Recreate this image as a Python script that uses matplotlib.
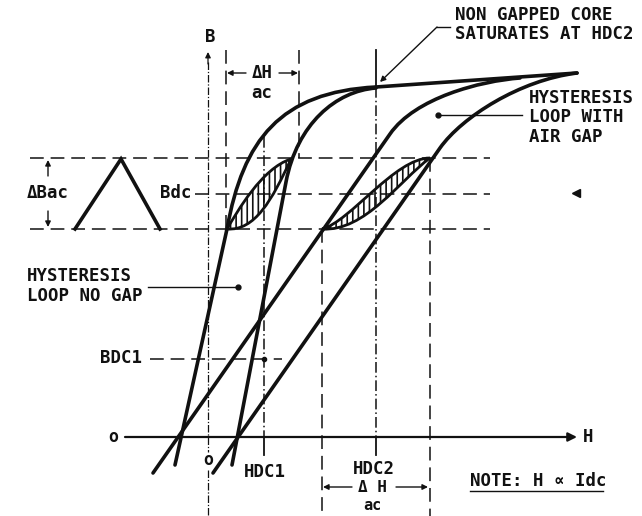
import matplotlib
matplotlib.use("Agg")
import matplotlib.pyplot as plt
from matplotlib.path import Path
from matplotlib.patches import PathPatch

# Sheet is laid out in page units: x to the right, y downwards, 642 x 516.
PAGE_W, PAGE_H = 642, 516

# --- major loops: straight run, then a cubic knee into saturation --------
# knee = [start, ctrl1, ctrl2, end]
steep_left_line = [(175, 465), (227, 229)]
steep_left_knee = [(227, 229), (243, 140), (280, 92), (376, 87)]
steep_right_line = [(232, 465), (286, 182)]
steep_right_knee = [(286, 182), (297, 124), (336, 91), (376, 88)]
gap_left_line = [(153, 473), (390, 134)]
gap_left_knee = [(390, 134), (415, 98), (480, 81), (520, 78)]
gap_right_line = [(213, 473), (440, 148)]
gap_right_knee = [(440, 148), (462, 117), (520, 80), (577, 73)]
saturation_line = [(376, 87), (577, 73)]

# --- minor (ac) loops: start, upper ctrl1, upper ctrl2, end, lower ctrl2, lower ctrl1
minor_no_gap = [(227, 229), (237, 212), (262, 168), (291, 159), (272, 200), (255, 231)]
minor_gap = [(322, 229), (350, 222), (395, 158), (430, 158), (400, 180), (365, 232)]

# ac drive waveform (triangle)
triangle_x = [75, 121, 160]
triangle_y = [229, 159, 229]

# --- reference lines ------------------------------------------------------
b_top, b_dc, b_bottom, b_dc1 = 158, 194, 229, 359
h_axis_y = 437
b_axis_x = 208
h_ac1 = (226, 299)      # ac swing around HDC1
h_dc1 = 264
h_ac2 = (322, 430)      # ac swing around HDC2
h_dc2 = 376

dashed_h = [(b_top, 30, 490), (b_bottom, 30, 490), (b_dc, 195, 490), (b_dc1, 150, 282)]
dashed_v = [(h_ac1[0], 50, b_bottom), (h_ac1[1], 50, b_top),
            (h_ac2[0], b_bottom, PAGE_H), (h_ac2[1], b_top, PAGE_H)]
dashdot_v = [(h_dc1, 137, h_axis_y), (h_dc2, 87, h_axis_y)]

# --- labels: text, x, y, horizontal alignment, size ------------------------
labels = [
    ("NON GAPPED CORE", 455, 15, "left", 12.5),
    ("SATURATES AT HDC2", 455, 34, "left", 12.5),
    ("B", 210, 37, "center", 12.5),
    ("ac", 262, 93, "center", 12.5),
    ("HYSTERESIS", 529, 98, "left", 12.5),
    ("LOOP WITH", 529, 117, "left", 12.5),
    ("AIR GAP", 529, 137, "left", 12.5),
    ("\u0394Bac", 27, 193, "left", 12.5),
    ("Bdc", 160, 193, "left", 12.5),
    ("HYSTERESIS", 27, 276, "left", 12.5),
    ("LOOP NO GAP", 27, 296, "left", 12.5),
    ("BDC1", 100, 358, "left", 12.5),
    ("H", 583, 437, "left", 12.5),
    ("HDC1", 265, 472, "center", 12.5),
    ("HDC2", 374, 469, "center", 12.5),
    ("ac", 372, 506, "center", 11),
    ("NOTE: H \u221d Idc", 470, 481, "left", 12.5),
]

INK = "#111111"
THICK = 2.6
THIN = 1.1

plt.rcParams["font.family"] = ["DejaVu Sans Mono", "DejaVu Sans"]
plt.rcParams["font.weight"] = "bold"
plt.rcParams["hatch.linewidth"] = 1.2

fig = plt.figure(figsize=(PAGE_W / 100, PAGE_H / 100), dpi=100)
ax = fig.add_axes([0, 0, 1, 1])
ax.set_xlim(0, PAGE_W)
ax.set_ylim(PAGE_H, 0)
ax.axis("off")


def branch(line, knee):
    verts = list(line) + list(knee[1:])
    codes = [Path.MOVETO] + [Path.LINETO] * (len(line) - 1) + [Path.CURVE4] * 3
    ax.add_patch(PathPatch(Path(verts, codes), fill=False, lw=THICK, ec=INK,
                           capstyle="round", joinstyle="round"))


def lens(pts):
    p0, u1, u2, p3, l2, l1 = pts
    verts = [p0, u1, u2, p3, l2, l1, p0, p0]
    codes = [Path.MOVETO] + [Path.CURVE4] * 6 + [Path.CLOSEPOLY]
    ax.add_patch(PathPatch(Path(verts, codes), fc="white", ec=INK, lw=2.0,
                           hatch="|||"))


for line, knee in [(steep_left_line, steep_left_knee), (steep_right_line, steep_right_knee),
                   (gap_left_line, gap_left_knee), (gap_right_line, gap_right_knee)]:
    branch(line, knee)
ax.plot(*zip(*saturation_line), color=INK, lw=THICK, solid_capstyle="round")

lens(minor_no_gap)
lens(minor_gap)

ax.plot(triangle_x, triangle_y, color=INK, lw=THICK, solid_joinstyle="miter")

dash = (0, (9, 4.5))
for y, x0, x1 in dashed_h:
    ax.plot([x0, x1], [y, y], color=INK, lw=THIN, ls=dash)
for x, y0, y1 in dashed_v:
    ax.plot([x, x], [y0, y1], color=INK, lw=THIN, ls=dash)
for x, y0, y1 in dashdot_v:
    ax.plot([x, x], [y0, y1], color=INK, lw=THIN, ls=(0, (7, 2, 1, 2)))
    ax.plot([x, x], [h_axis_y, h_axis_y + 18], color=INK, lw=1.3)
ax.plot([h_dc2, h_dc2], [50, 87], color=INK, lw=1.3)
ax.plot(h_dc1, b_dc1, "o", color=INK, ms=3)

# axes
ax.annotate("", xy=(577, h_axis_y), xytext=(125, h_axis_y),
            arrowprops=dict(arrowstyle="-|>", lw=1.6, color=INK, mutation_scale=13,
                            shrinkA=0, shrinkB=0))
ax.plot([b_axis_x, b_axis_x], [62, 452], color=INK, lw=0.9, ls=(0, (6, 1.5, 1, 1.5)))
ax.plot([b_axis_x, b_axis_x], [470, PAGE_H], color=INK, lw=0.9, ls=(0, (6, 1.5, 1, 1.5)))
ax.annotate("", xy=(b_axis_x, 52), xytext=(b_axis_x, 64),
            arrowprops=dict(arrowstyle="-|>", lw=0.9, color=INK, mutation_scale=8,
                            shrinkA=0, shrinkB=0))
ax.text(113, h_axis_y, "o", ha="center", va="center", fontsize=12, color=INK)
ax.text(b_axis_x, 460, "o", ha="center", va="center", fontsize=12, color=INK)

small = dict(arrowstyle="-|>", lw=1.0, color=INK, mutation_scale=8, shrinkA=0, shrinkB=0)
# delta B ac
ax.annotate("", xy=(48, b_top + 2), xytext=(48, 176), arrowprops=small)
ax.annotate("", xy=(48, b_bottom - 2), xytext=(48, 211), arrowprops=small)
# delta H ac, top and bottom
ax.text(262, 73, "\u0394H", ha="center", va="center", fontsize=12.5, color=INK)
ax.annotate("", xy=(h_ac1[0] + 1, 73), xytext=(246, 73), arrowprops=small)
ax.annotate("", xy=(h_ac1[1] - 1, 73), xytext=(279, 73), arrowprops=small)
ax.text(372, 487, "\u0394 H", ha="center", va="center", fontsize=11.5, color=INK)
ax.annotate("", xy=(h_ac2[0] + 1, 487), xytext=(352, 487), arrowprops=small)
ax.annotate("", xy=(h_ac2[1] - 2, 487), xytext=(396, 487), arrowprops=small)

# leaders
ax.plot([450, 437], [27, 27], color=INK, lw=1.0)
ax.annotate("", xy=(380, 82), xytext=(437, 27), arrowprops=small)
ax.plot([438, 522], [115, 115], color=INK, lw=1.0)
ax.plot(438, 115, "o", color=INK, ms=3.5)
ax.plot([148, 238], [287, 287], color=INK, lw=1.0)
ax.plot(238, 287, "o", color=INK, ms=3.5)
ax.plot(576, 193, "<", color=INK, ms=6)

for text, x, y, ha, size in labels:
    ax.text(x, y, text, ha=ha, va="center", fontsize=size, color=INK)
ax.plot([470, 603], [491, 491], color=INK, lw=1.0)

fig.savefig("out.png", dpi=100, facecolor="white")
